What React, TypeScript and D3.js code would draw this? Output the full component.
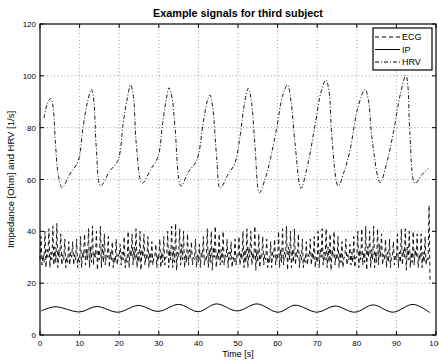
import React from "react";
import * as d3 from "d3";

const W = 439;
const H = 360;
const M = { left: 40, right: 3, top: 24, bottom: 25 };

const xTicks = [0, 10, 20, 30, 40, 50, 60, 70, 80, 90, 100];
const yTicks = [0, 20, 40, 60, 80, 100, 120];

const seriesNames = ["ECG", "IP", "HRV"];

// HRV (dash-dot): time [s] and value
const hrvT = [1.0, 1.8, 2.7, 3.3, 3.9, 4.6, 5.6, 7.5, 9.6, 10.9, 12, 13, 13.6, 14.2, 15.3, 17.5, 19.7, 21, 22, 22.9, 23.6, 24.3, 25.8, 28, 29.8, 31, 32, 32.6, 33.4, 34.1, 35.6, 37.5, 39.6, 41.2, 42.2, 42.9, 43.6, 44.6, 45.5, 47.5, 49.2, 50.5, 51.7, 52.6, 53.4, 54.3, 55.4, 56.8, 58.1, 59.8, 61.2, 62.5, 63.4, 64.4, 65.9, 67.5, 69.4, 71, 72.2, 73, 73.7, 75.3, 76.8, 78.3, 80.3, 82.1, 83, 83.8, 85.9, 87.5, 89.2, 91, 92.4, 92.9, 93.4, 94.7, 96.5, 98.1];
const hrvV = [83.7, 89, 91.3, 88, 74, 62, 56.9, 62, 67, 80.4, 90, 94.8, 90, 72.7, 57.5, 63, 67.5, 81.7, 91, 96.5, 92, 74, 58.5, 64, 68.8, 82, 92, 95.4, 91, 80, 57.5, 63, 67.5, 81.8, 90, 92.6, 88, 68.8, 56.6, 62, 66.2, 76.5, 90, 95.2, 90, 72.7, 54.9, 60, 67.5, 80, 92, 96.5, 90, 74, 56.6, 65, 80.4, 94, 98.4, 94, 76.5, 57.5, 63, 71.4, 88, 94.8, 90, 76.5, 58.8, 66, 77.8, 93, 100.3, 96, 77.8, 58.5, 62, 64.3];

// IP (solid): time [s] and impedance
const ipT = [0.3, 3.8, 10, 14.3, 19.7, 24.8, 29.8, 35, 40, 44.5, 49.8, 54.8, 60.1, 64.4, 70, 74.5, 79.5, 84.1, 89.1, 94.2, 98.5];
const ipV = [9.3, 10.9, 8.9, 11, 8.8, 11.4, 9.1, 11.8, 9, 12, 9.3, 12, 8.8, 11.5, 8.8, 11.2, 8.8, 11.6, 8.8, 11.8, 8.6];

// ECG (dashed): sampled every 0.25 s
const ecgStep = 0.25;
const ecgV = [
  29, 38, 27, 31, 28, 40, 26, 33,
  30, 41, 26, 32, 29, 42, 27, 34,
  28, 43, 26, 33, 30, 39, 27, 31,
  29, 37, 26, 30, 28, 36, 27, 32,
  30, 36, 27, 31, 29, 37, 26, 30,
  28, 38, 26, 32, 30, 39, 27, 33,
  29, 41, 26, 34, 28, 42, 27, 32,
  30, 40, 25, 33, 29, 42, 26, 35,
  28, 39, 27, 31, 30, 38, 26, 32,
  29, 36, 26, 30, 28, 37, 27, 31,
  30, 35, 27, 32, 29, 38, 26, 30,
  28, 40, 26, 33, 30, 39, 27, 34,
  29, 41, 26, 32, 28, 40, 25, 33,
  30, 39, 27, 31, 29, 38, 26, 32,
  28, 36, 27, 30, 30, 35, 26, 31,
  29, 37, 26, 32, 28, 38, 27, 30,
  30, 40, 26, 33, 29, 42, 26, 34,
  28, 43, 25, 32, 30, 41, 27, 35,
  29, 40, 26, 31, 28, 39, 27, 33,
  30, 36, 27, 30, 29, 37, 26, 31,
  28, 35, 26, 32, 30, 38, 27, 30,
  29, 41, 26, 33, 28, 40, 25, 34,
  30, 42, 26, 32, 29, 39, 27, 33,
  28, 40, 27, 31, 30, 37, 26, 32,
  29, 36, 26, 30, 28, 37, 27, 31,
  30, 38, 27, 32, 29, 40, 26, 33,
  28, 41, 26, 34, 30, 40, 27, 32,
  29, 42, 25, 33, 28, 39, 26, 31,
  30, 38, 27, 31, 29, 37, 26, 30,
  28, 36, 26, 32, 30, 37, 27, 31,
  29, 40, 26, 33, 28, 41, 27, 32,
  30, 42, 25, 34, 29, 40, 26, 33,
  28, 41, 27, 32, 30, 39, 26, 31,
  29, 37, 26, 30, 28, 36, 27, 31,
  30, 37, 27, 32, 29, 38, 26, 30,
  28, 40, 26, 33, 30, 41, 27, 32,
  29, 41, 26, 34, 28, 39, 25, 33,
  30, 40, 27, 31, 29, 38, 26, 32,
  28, 36, 26, 30, 30, 37, 27, 31,
  29, 35, 27, 32, 28, 38, 26, 30,
  30, 40, 26, 33, 29, 41, 27, 32,
  28, 42, 25, 34, 30, 40, 26, 33,
  29, 42, 26, 32, 28, 41, 27, 35,
  30, 39, 27, 31, 29, 37, 26, 32,
  28, 37, 26, 30, 30, 36, 27, 31,
  29, 39, 26, 32, 28, 41, 27, 33,
  30, 41, 25, 34, 29, 40, 26, 32,
  28, 40, 27, 33, 30, 39, 26, 31,
  29, 39, 26, 32, 28, 38, 27, 30,
  29, 50, 20,
];

const FONT = "'Liberation Sans', Arial, Helvetica, sans-serif";

export default function App() {
  const x = d3.scaleLinear().domain([0, 100]).range([M.left, W - M.right]);
  const y = d3.scaleLinear().domain([0, 120]).range([H - M.bottom, M.top]);
  const x0 = M.left, x1 = W - M.right, y0 = H - M.bottom, y1 = M.top;

  const ecgPts: [number, number][] = ecgV.map((v, i) => [i * ecgStep, v]);
  const ipPts: [number, number][] = ipT.map((t, i) => [t, ipV[i]]);
  const hrvPts: [number, number][] = hrvT.map((t, i) => [t, hrvV[i]]);

  const lineLin = d3.line<[number, number]>().x(d => x(d[0])).y(d => y(d[1]));
  const lineSmooth = d3.line<[number, number]>().x(d => x(d[0])).y(d => y(d[1])).curve(d3.curveCatmullRom.alpha(0.5));

  const styles: Record<string, string | undefined> = { ECG: "4,3", IP: undefined, HRV: "4,2,1,2" };

  const lx = 373, ly = 28, lw = 59, lh = 42;

  return (
    <svg width={W} height={H} style={{ position: "absolute", left: 0, top: 0, background: "#fff" }} fontFamily={FONT}>
      <rect x={0} y={0} width={W} height={H} fill="#fff" />
      {/* grid */}
      {xTicks.slice(1, -1).map(t => (
        <line key={"gx" + t} x1={x(t)} x2={x(t)} y1={y0} y2={y1} stroke="#777" strokeWidth={0.7} strokeDasharray="1,2.5" />
      ))}
      {yTicks.slice(1, -1).map(t => (
        <line key={"gy" + t} x1={x0} x2={x1} y1={y(t)} y2={y(t)} stroke="#777" strokeWidth={0.7} strokeDasharray="1,2.5" />
      ))}
      {/* series */}
      <path d={lineLin(ecgPts) || ""} fill="none" stroke="#000" strokeWidth={0.9} strokeDasharray={styles.ECG} />
      <path d={lineSmooth(ipPts) || ""} fill="none" stroke="#000" strokeWidth={1} />
      <path d={lineSmooth(hrvPts) || ""} fill="none" stroke="#000" strokeWidth={0.9} strokeDasharray={styles.HRV} />
      {/* ticks */}
      {xTicks.map(t => (
        <g key={"tx" + t}>
          <line x1={x(t)} x2={x(t)} y1={y0} y2={y0 - 4} stroke="#000" />
          <line x1={x(t)} x2={x(t)} y1={y1} y2={y1 + 4} stroke="#000" />
          <text x={x(t)} y={y0 + 11} fontSize={8} textAnchor="middle">{t}</text>
        </g>
      ))}
      {yTicks.map(t => (
        <g key={"ty" + t}>
          <line x1={x0} x2={x0 + 4} y1={y(t)} y2={y(t)} stroke="#000" />
          <line x1={x1} x2={x1 - 4} y1={y(t)} y2={y(t)} stroke="#000" />
          <text x={x0 - 4} y={y(t) + 3} fontSize={8} textAnchor="end">{t}</text>
        </g>
      ))}
      {/* frame */}
      <rect x={x0} y={y1} width={x1 - x0} height={y0 - y1} fill="none" stroke="#000" strokeWidth={1.2} />
      {/* labels */}
      <text x={(x0 + x1) / 2} y={17} fontSize={10.8} fontWeight="bold" textAnchor="middle">Example signals for third subject</text>
      <text x={(x0 + x1) / 2} y={357} fontSize={9} textAnchor="middle">Time [s]</text>
      <text transform={`translate(14,${(y0 + y1) / 2}) rotate(-90)`} fontSize={9.5} textAnchor="middle">Impedance [Ohm] and HRV [1/s]</text>
      {/* legend */}
      <rect x={lx} y={ly} width={lw} height={lh} fill="#fff" stroke="#000" strokeWidth={1.2} />
      {seriesNames.map((s, i) => (
        <g key={s}>
          <line x1={lx + 2} x2={lx + 27} y1={ly + 9 + i * 12.5} y2={ly + 9 + i * 12.5} stroke="#000" strokeWidth={1} strokeDasharray={styles[s]} />
          <text x={lx + 29} y={ly + 12 + i * 12.5} fontSize={9}>{s}</text>
        </g>
      ))}
    </svg>
  );
}
